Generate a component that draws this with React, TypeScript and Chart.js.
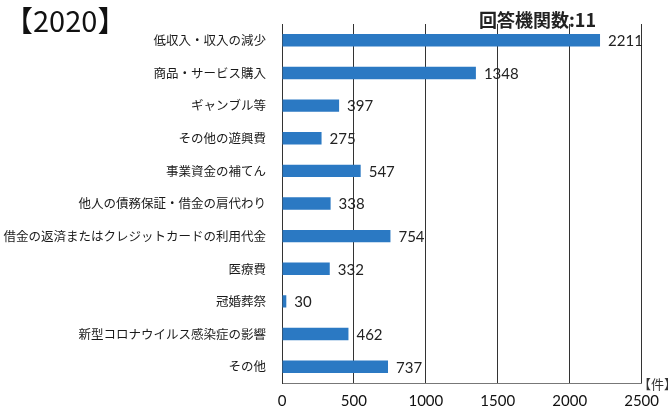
import React, { useEffect, useRef } from "react";
import { Chart, registerables } from "chart.js";

Chart.register(...registerables);

const categories = [
  "低収入・収入の減少",
  "商品・サービス購入",
  "ギャンブル等",
  "その他の遊興費",
  "事業資金の補てん",
  "他人の債務保証・借金の肩代わり",
  "借金の返済またはクレジットカードの利用代金",
  "医療費",
  "冠婚葬祭",
  "新型コロナウイルス感染症の影響",
  "その他",
];
const counts = [2211, 1348, 397, 275, 547, 338, 754, 332, 30, 462, 737];
const xTicks = [0, 500, 1000, 1500, 2000, 2500];

const valueLabels = {
  id: "valueLabels",
  afterDatasetsDraw(chart: any) {
    const ctx = chart.ctx;
    const meta = chart.getDatasetMeta(0);
    ctx.save();
    ctx.font = "15px Lato, 'Noto Sans', sans-serif";
    ctx.fillStyle = "#222";
    ctx.textAlign = "left";
    ctx.textBaseline = "middle";
    meta.data.forEach((bar: any, i: number) => {
      ctx.fillText(String(counts[i]), bar.x + 8, bar.y + 1);
    });
    ctx.restore();
  },
};

export default function App() {
  const ref = useRef<HTMLCanvasElement | null>(null);
  useEffect(() => {
    document.body.style.margin = "0";
    const chart = new Chart(ref.current as HTMLCanvasElement, {
      type: "bar",
      data: {
        labels: categories,
        datasets: [
          {
            data: counts,
            backgroundColor: "#2b79c3",
            barPercentage: 0.38,
            categoryPercentage: 1,
          },
        ],
      },
      options: {
        indexAxis: "y",
        animation: false,
        responsive: false,
        layout: { padding: { left: 0, right: 26, top: 24, bottom: 0 } },
        plugins: { legend: { display: false }, tooltip: { enabled: false } },
        scales: {
          x: {
            min: 0,
            max: 2500,
            afterBuildTicks(scale: any) {
              scale.ticks = xTicks.map((v) => ({ value: v }));
            },
            afterFit(scale: any) {
              scale.height = 29;
            },
            ticks: {
              padding: 9,
              color: "#111",
              font: { size: 15, family: "Lato, 'Noto Sans', sans-serif" },
              maxRotation: 0,
              callback: (v: any) => String(v),
            },
            grid: { color: "#333", lineWidth: 1, drawTicks: false },
            border: { color: "#777", width: 1 },
          },
          y: {
            afterFit(scale: any) {
              scale.width = 282;
            },
            ticks: {
              padding: 16,
              color: "#1a1a1a",
              font: { size: 12.5, family: "'Noto Sans CJK JP', sans-serif" },
              autoSkip: false,
            },
            grid: { display: false, drawTicks: false },
            border: { color: "#333", width: 1 },
          },
        },
      },
      plugins: [valueLabels],
    });
    return () => chart.destroy();
  }, []);

  return (
    <div style={{ position: "relative", width: 668, height: 412, background: "#fff", overflow: "hidden" }}>
      <canvas ref={ref} width={668} height={412} style={{ display: "block" }} />
      <div
        style={{
          position: "absolute",
          left: 4,
          top: 1,
          fontFamily: "'Noto Sans CJK JP', sans-serif",
          fontSize: 29,
          lineHeight: "36px",
          color: "#111",
          whiteSpace: "nowrap",
        }}
      >
        【2020】
      </div>
      <div
        style={{
          position: "absolute",
          left: 479,
          top: 7,
          fontFamily: "'Noto Sans CJK JP', sans-serif",
          fontSize: 18,
          fontWeight: 700,
          lineHeight: "24px",
          color: "#222",
          whiteSpace: "nowrap",
        }}
      >
        回答機関数:11
      </div>
      <div
        style={{
          position: "absolute",
          left: 638,
          top: 376,
          fontFamily: "'Noto Sans CJK JP', sans-serif",
          fontSize: 13,
          lineHeight: "16px",
          color: "#333",
          whiteSpace: "nowrap",
        }}
      >
        【件】
      </div>
    </div>
  );
}
